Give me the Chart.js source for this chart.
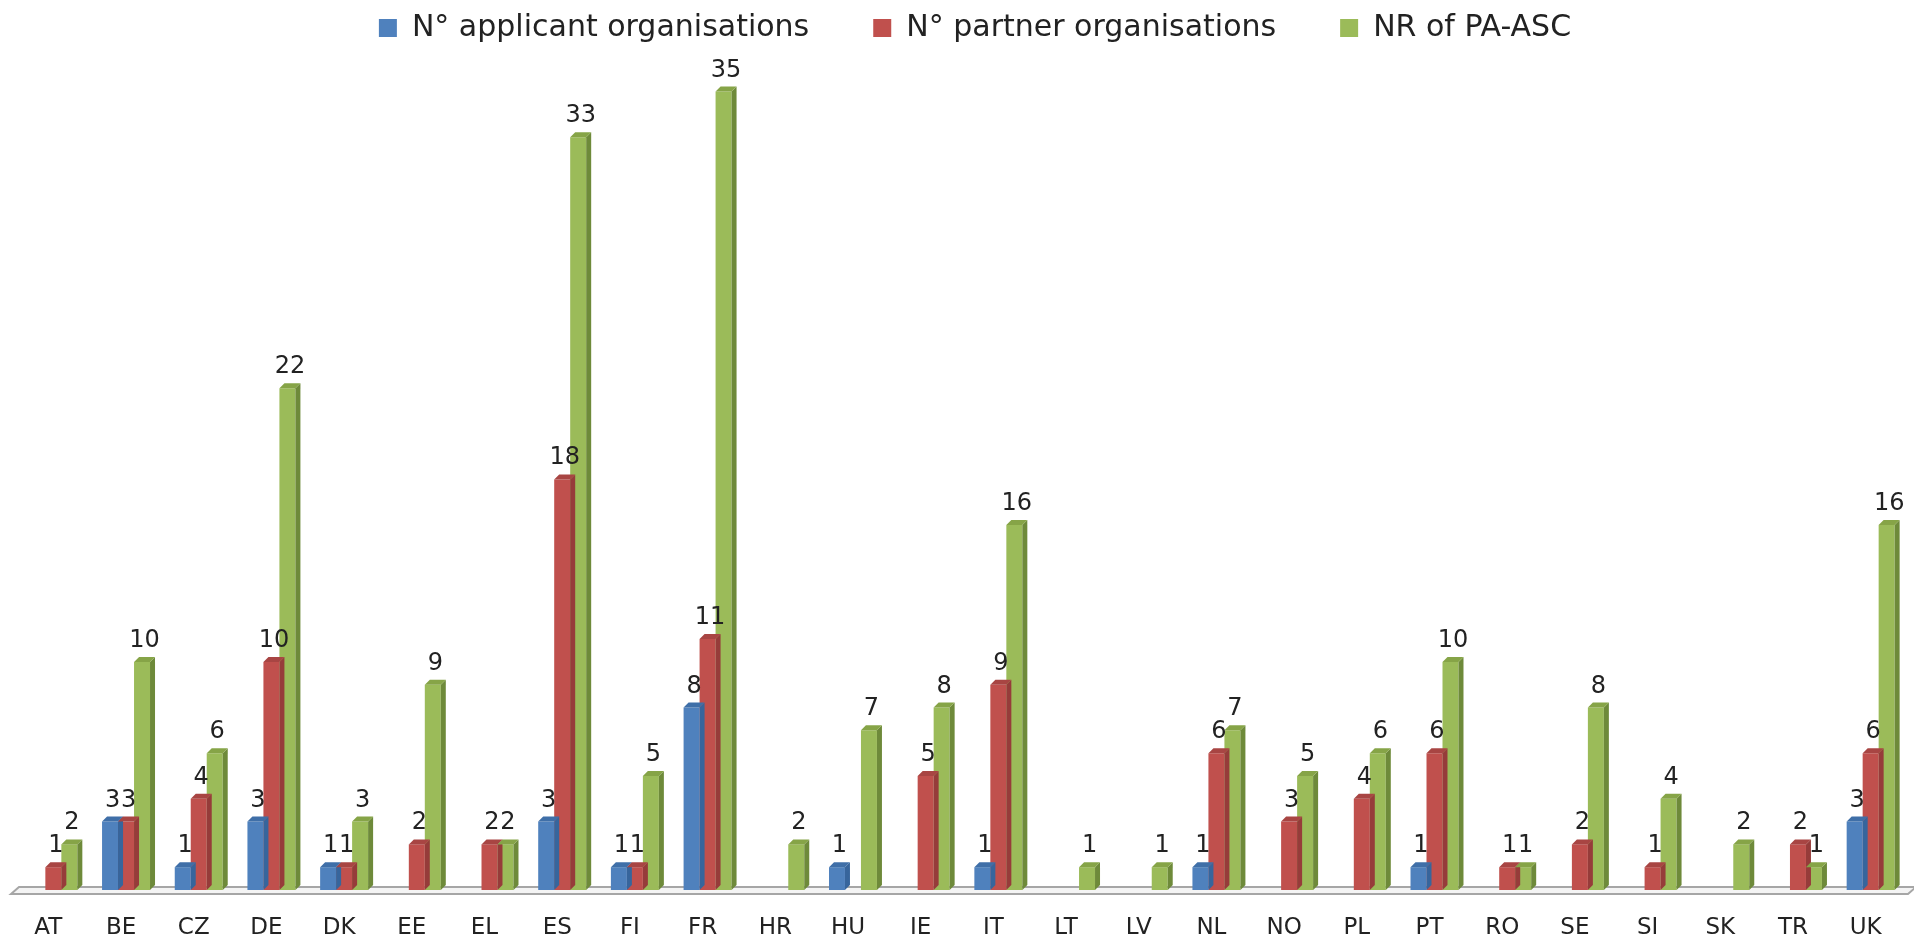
<!DOCTYPE html>
<html>
<head>
<meta charset="utf-8">
<script src="https://cdn.jsdelivr.net/npm/chart.js@4.4.1/dist/chart.umd.min.js"></script>
<style>
  html, body { margin: 0; padding: 0; background: #fff; }
  #wrap { width: 1914px; height: 942px; }
</style>
</head>
<body>
<div id="wrap"><canvas id="chart" width="1914" height="942"></canvas></div>
<script>
const countries = ["AT", "BE", "CZ", "DE", "DK", "EE", "EL", "ES", "FI", "FR", "HR", "HU", "IE",
  "IT", "LT", "LV", "NL", "NO", "PL", "PT", "RO", "SE", "SI", "SK", "TR", "UK"];
const applicants = [0, 3, 1, 3, 1, 0, 0, 3, 1, 8, 0, 1, 0, 1, 0, 0, 1, 0, 0, 1, 0, 0, 0, 0, 0, 3];
const partners = [1, 3, 4, 10, 1, 2, 2, 18, 1, 11, 0, 0, 5, 9, 0, 0, 6, 3, 4, 6, 1, 2, 1, 0, 2, 6];
const paAsc = [2, 10, 6, 22, 3, 9, 2, 33, 5, 35, 2, 7, 8, 16, 1, 1, 7, 5, 6, 10, 1, 8, 4, 2, 1, 16];

const FONT = "'DejaVu Sans', sans-serif";
const DEPTH = 5;

// darker side / top shades for the fake 3D look
const shades = [
  { front: "#4F81BD", side: "#37659C", top: "#3F6FA8" },
  { front: "#C0504D", side: "#963C3A", top: "#A84543" },
  { front: "#9BBB59", side: "#6E8A3A", top: "#86A447" },
];

// legend padding is big (for spacing between items), so pull it up
// and nudge it a bit to the right like in the original
const legendFix = {
  id: "legendFix",
  beforeInit(chart) {
    const fit = chart.legend.fit;
    chart.legend.fit = function () {
      fit.call(this);
      this.height = 97;
    };
  },
  afterLayout(chart) {
    chart.legend.left += 13;
    chart.legend.right += 13;
  },
};

const bars3d = {
  id: "bars3d",
  beforeDatasetsDraw(chart) {
    // floor under the bars
    const { ctx, chartArea } = chart;
    const base = chart.scales.y.getPixelForValue(0);
    ctx.save();
    ctx.beginPath();
    ctx.moveTo(chartArea.left - 6, base + 4);
    ctx.lineTo(chartArea.left + 2, base - 3);
    ctx.lineTo(chartArea.right + 9, base - 3);
    ctx.lineTo(chartArea.right + 1, base + 4);
    ctx.closePath();
    ctx.fillStyle = "#f4f4f4";
    ctx.fill();
    ctx.lineWidth = 2;
    ctx.strokeStyle = "#a6a6a6";
    ctx.stroke();
    ctx.restore();
  },
  afterDatasetsDraw(chart) {
    const { ctx } = chart;
    const d = DEPTH;
    ctx.save();
    chart.data.datasets.forEach((ds, i) => {
      const meta = chart.getDatasetMeta(i);
      meta.data.forEach((bar, j) => {
        if (!ds.data[j]) return;
        const w = bar.width;
        const x0 = bar.x - w / 2;
        const x1 = bar.x + w / 2;
        const top = bar.y;
        const bottom = bar.base;
        // right side
        ctx.fillStyle = shades[i].side;
        ctx.beginPath();
        ctx.moveTo(x1, top);
        ctx.lineTo(x1 + d, top - d);
        ctx.lineTo(x1 + d, bottom - d);
        ctx.lineTo(x1, bottom);
        ctx.closePath();
        ctx.fill();
        // top face
        ctx.fillStyle = shades[i].top;
        ctx.beginPath();
        ctx.moveTo(x0, top);
        ctx.lineTo(x0 + d, top - d);
        ctx.lineTo(x1 + d, top - d);
        ctx.lineTo(x1, top);
        ctx.closePath();
        ctx.fill();
      });
    });
    // value labels
    ctx.font = "24px " + FONT;
    ctx.fillStyle = "#222";
    ctx.textAlign = "center";
    ctx.textBaseline = "alphabetic";
    chart.data.datasets.forEach((ds, i) => {
      const meta = chart.getDatasetMeta(i);
      meta.data.forEach((bar, j) => {
        if (!ds.data[j]) return;
        ctx.fillText(String(ds.data[j]), bar.x + d / 2, bar.y - d - 10);
      });
    });
    ctx.restore();
  },
};

new Chart(document.getElementById("chart"), {
  type: "bar",
  data: {
    labels: countries,
    datasets: [
      { label: "N° applicant organisations", data: applicants, backgroundColor: shades[0].front },
      { label: "N° partner organisations", data: partners, backgroundColor: shades[1].front },
      { label: "NR of PA-ASC", data: paAsc, backgroundColor: shades[2].front },
    ],
  },
  options: {
    responsive: false,
    animation: false,
    layout: { padding: { left: 17, right: 7, top: -51, bottom: -25 } },
    datasets: {
      bar: { categoryPercentage: 0.66, barPercentage: 1.0, borderWidth: 0 },
    },
    plugins: {
      legend: {
        position: "top",
        labels: {
          font: { family: FONT, size: 30 },
          color: "#222",
          boxWidth: 18,
          boxHeight: 18,
          padding: 64,
        },
      },
      tooltip: { enabled: false },
    },
    scales: {
      x: {
        grid: { display: false, drawTicks: false },
        border: { display: false },
        ticks: {
          font: { family: FONT, size: 23, lineHeight: 1.0 },
          color: "#222",
          padding: 27,
          labelOffset: -5,
        },
      },
      y: {
        display: false,
        min: 0,
        max: 37,
      },
    },
  },
  plugins: [legendFix, bars3d],
});
</script>
</body>
</html>
